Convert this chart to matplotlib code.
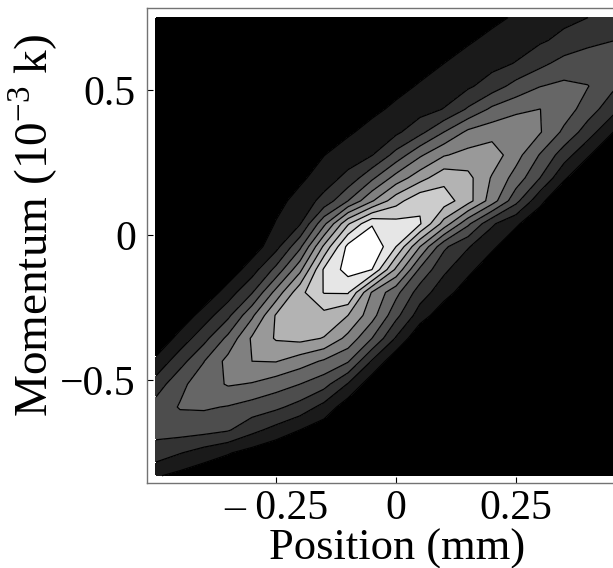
import matplotlib
matplotlib.use("Agg")
import numpy as np
import matplotlib.pyplot as plt

plt.rcParams['font.family'] = ['Liberation Serif', 'DejaVu Serif']
plt.rcParams['mathtext.fontset'] = 'custom'
plt.rcParams['mathtext.rm'] = 'Liberation Serif'

# sample grid (mm, 10^-3 k)
position = [-0.5, -0.45, -0.4, -0.35, -0.3, -0.25, -0.2, -0.15, -0.1, -0.05, 0.0,
            0.05, 0.1, 0.15, 0.2, 0.25, 0.3, 0.35, 0.4, 0.45, 0.5]
momentum = [-0.83, -0.751, -0.672, -0.593, -0.514, -0.435, -0.356, -0.277, -0.198,
            -0.119, -0.04, 0.039, 0.118, 0.197, 0.276, 0.355, 0.434, 0.513, 0.592,
            0.671, 0.75]

# phase-space counts, one row per momentum value (bottom to top)
counts = [
    [1.1, 0.7, 0.3, 0.1, 0, 0, 0, 0, 0, 0, 0, 0, 0, 0, 0, 0, 0, 0, 0, 0, 0],
    [2.6, 2.05, 1.55, 1.08, 0.6, 0.15, 0, 0, 0, 0, 0, 0, 0, 0, 0, 0, 0, 0, 0, 0, 0],
    [3.3, 3.45, 3.35, 3.1, 2.3, 1.65, 1.0, 0.4, 0, 0, 0, 0, 0, 0, 0, 0, 0, 0, 0, 0, 0],
    [3.45, 4.07, 4.12, 3.94, 3.57, 3.21, 2.62, 1.66, 0.4, 0, 0, 0, 0, 0, 0, 0, 0, 0, 0, 0, 0],
    [2.43, 3.78, 4.48, 5.1, 4.93, 4.46, 4.0, 3.37, 1.93, 0.35, 0, 0, 0, 0, 0, 0, 0, 0, 0, 0, 0],
    [1.25, 2.59, 3.98, 5.32, 6.0, 6.05, 5.48, 4.86, 4.1, 1.9, 0.25, 0, 0, 0, 0, 0, 0, 0, 0, 0, 0],
    [0.1, 1.38, 2.67, 4.26, 6.14, 7.1, 7.3, 6.95, 5.7, 4.0, 1.9, 0.13, 0, 0, 0, 0, 0, 0, 0, 0, 0],
    [0, 0.27, 1.47, 2.76, 4.8, 7.1, 7.7, 7.7, 7.0, 5.4, 3.3, 1.5, 0.35, 0, 0, 0, 0, 0, 0, 0, 0],
    [0, 0, 0.24, 1.48, 2.93, 5.35, 7.71, 9.05, 9.1, 5.9, 4.3, 2.5, 1.4, 0.45, 0, 0, 0, 0, 0, 0, 0],
    [0, 0, 0, 0.31, 1.54, 3.28, 5.73, 9.14, 10.4, 10.0, 6.8, 3.8, 2.2, 1.26, 0.35, 0, 0, 0, 0, 0, 0],
    [0, 0, 0, 0, 0.45, 1.67, 3.78, 7.2, 10.3, 10.9, 9.0, 6.0, 3.2, 2.08, 1.18, 0.3, 0, 0, 0, 0, 0],
    [0, 0, 0, 0, 0.1, 1.07, 1.93, 4.75, 7.88, 9.9, 9.36, 9.1, 6.6, 4.2, 2.15, 1.15, 0.25, 0, 0, 0, 0],
    [0, 0, 0, 0, 0, 0.66, 1.38, 2.33, 4.0, 5.9, 7.6, 8.8, 8.5, 7.4, 5.5, 3.3, 1.27, 0, 0, 0, 0],
    [0, 0, 0, 0, 0, 0.2, 0.8, 1.49, 2.3, 3.8, 5.4, 6.6, 7.7, 7.3, 5.9, 4.6, 3.0, 1.15, 0, 0, 0],
    [0, 0, 0, 0, 0, 0, 0.49, 0.98, 1.47, 1.96, 3.36, 4.84, 5.92, 6.33, 6.56, 5.38, 3.93, 2.48, 1.11, 0, 0],
    [0, 0, 0, 0, 0, 0, 0, 0.4, 0.87, 1.33, 1.79, 2.71, 4.01, 5.23, 5.6, 5.97, 5.08, 3.78, 2.49, 1.06, 0],
    [0, 0, 0, 0, 0, 0, 0, 0, 0.36, 0.78, 1.19, 1.6, 2.04, 3.13, 4.21, 4.71, 5.01, 4.53, 3.49, 2.42, 1.0],
    [0, 0, 0, 0, 0, 0, 0, 0, 0, 0.34, 0.72, 1.09, 1.47, 1.84, 2.5, 3.37, 3.98, 4.23, 4.03, 3.22, 2.37],
    [0, 0, 0, 0, 0, 0, 0, 0, 0, 0, 0.31, 0.65, 1.0, 1.34, 1.68, 2.05, 2.73, 3.37, 3.56, 3.56, 2.97],
    [0, 0, 0, 0, 0, 0, 0, 0, 0, 0, 0, 0.26, 0.58, 0.9, 1.22, 1.54, 1.86, 2.27, 2.74, 2.98, 3.08],
    [0, 0, 0, 0, 0, 0, 0, 0, 0, 0, 0, 0, 0.2, 0.45, 0.8, 1.1, 1.45, 1.75, 2.0, 2.3, 2.55],
]

xticks = [-0.25, 0, 0.25]
xticklabels = ['\u2013 0.25', '0', '0.25']
yticks = [-0.5, 0, 0.5]
yticklabels = ['\u22120.5', '0', '0.5']

levels = list(range(0, 12))
shades = [str(k / 10) for k in range(11)]

fig = plt.figure(figsize=(6.13, 5.68), dpi=100)
ax = fig.add_axes([0.2398, 0.1496, 0.8124, 0.8363])

z = np.array(counts)
ax.contourf(position, momentum, z, levels=levels, colors=shades)
ax.contour(position, momentum, z, levels=levels[1:-1], colors='k', linewidths=0.9)

ax.set_xlim(-0.51875, 0.51875)
ax.set_ylim(-0.855, 0.783)

ax.set_xticks(xticks)
ax.set_xticklabels(xticklabels)
ax.set_yticks(yticks)
ax.set_yticklabels(yticklabels)
ax.tick_params(direction='in', length=4, width=0.8, color='k', labelsize=30,
               top=False, right=False)
ax.tick_params(axis='x', pad=5)
ax.tick_params(axis='y', pad=8)
for sp in ax.spines.values():
    sp.set_color('0.45')
    sp.set_linewidth(1.0)

ax.set_xlabel('Position (mm)', fontsize=32)
ax.xaxis.set_label_coords(0.502, -0.096)
ax.set_ylabel(r'Momentum (10$^{-3}$ k)', fontsize=34)
ax.yaxis.set_label_coords(-0.175, 0.543)

fig.savefig('out.png', dpi=100)
